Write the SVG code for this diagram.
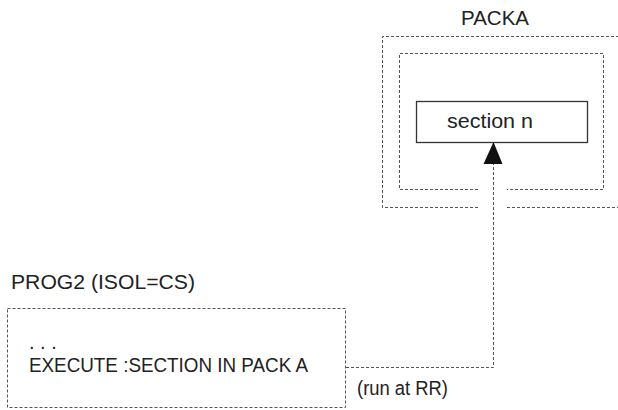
<svg xmlns="http://www.w3.org/2000/svg" width="618" height="410" viewBox="0 0 618 410">
<style>
.t{font-family:"Liberation Sans",Arial,sans-serif;font-size:20px;fill:#222}
.d{fill:none;stroke:#555;stroke-width:1;stroke-dasharray:3,2}
</style>
<rect width="618" height="410" fill="#fff"/>
<g id="packa">
<text class="t" x="495" y="25" text-anchor="middle" textLength="68" lengthAdjust="spacingAndGlyphs">PACKA</text>
<path class="d" d="M478,207.5 H382.5 V36.5 H622 M507,207.5 H622"/>
<path class="d" d="M478,189.5 H399.5 V53.5 H603.5 V189.5 H507"/>
</g>
<g id="section">
<rect x="416.5" y="101.5" width="171" height="41" fill="#fff" stroke="#333" stroke-width="1.3"/>
<text class="t" x="490" y="128" text-anchor="middle" textLength="86" lengthAdjust="spacingAndGlyphs">section n</text>
</g>
<g id="prog2">
<text class="t" x="11" y="289" textLength="184" lengthAdjust="spacingAndGlyphs">PROG2 (ISOL=CS)</text>
<rect class="d" x="7.5" y="308.5" width="338" height="99"/>
<text class="t" x="29" y="349">. . .</text>
<text class="t" x="29" y="372" textLength="279" lengthAdjust="spacingAndGlyphs">EXECUTE :SECTION IN PACK A</text>
</g>
<g id="connectors">
<path class="d" d="M346,367.5 H493.5 V164"/>
<polygon points="493.5,142 483.5,164 502.5,164" fill="#111"/>
<text class="t" x="357" y="395" textLength="91" lengthAdjust="spacingAndGlyphs">(run at RR)</text>
</g>
</svg>
